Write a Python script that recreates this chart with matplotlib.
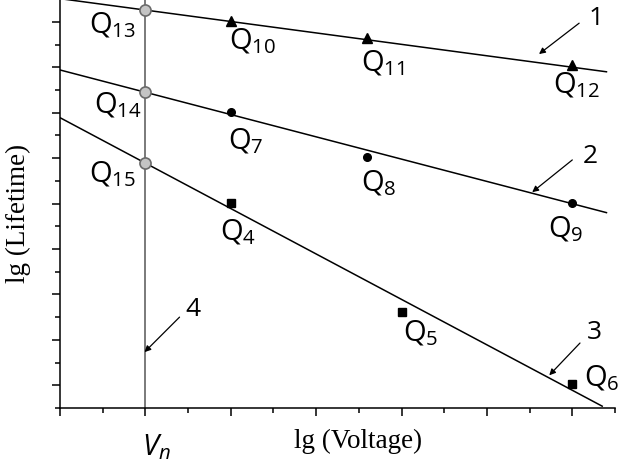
import matplotlib.pyplot as plt
import numpy as np

plt.rcParams["mathtext.fontset"] = "custom"
plt.rcParams["mathtext.rm"] = "Open Sans"
plt.rcParams["mathtext.it"] = "Open Sans:italic"
plt.rcParams["font.family"] = "Open Sans"

# fitted lines (end points) for the three series
line1_x = [0.0, 6.4]
line1_y = [8.51, 6.90]
line2_x = [0.0, 6.4]
line2_y = [6.94, 3.80]
line3_x = [0.0, 6.35]
line3_y = [5.89, -0.46]

# measured points
tri_x = [2.0, 3.6, 6.0]
tri_y = [8.02, 7.64, 7.05]
dot_x = [2.0, 3.6, 6.0]
dot_y = [6.01, 5.02, 4.01]
sq_x = [2.0, 4.0, 6.0]
sq_y = [4.01, 1.61, 0.02]

# intersections with V = Vn
vn = 1.0
cross_y = [8.26, 6.45, 4.89]

point_labels = ["10", "11", "12", "7", "8", "9", "4", "5", "6", "13", "14", "15"]
label_x = [2.26, 3.78, 6.05, 2.18, 3.73, 5.92, 2.08, 4.23, 6.35, 0.62, 0.68, 0.61]
label_y = [7.56, 7.09, 6.61, 5.37, 4.45, 3.44, 3.37, 1.15, 0.15, 7.93, 6.17, 4.65]

curve_names = ["1", "2", "3", "4"]
name_x = [6.28, 6.21, 6.26, 1.56]
name_y = [8.08, 5.04, 1.17, 1.67]
arrow_from = [(6.08, 7.97), (6.00, 4.96), (6.09, 0.93), (1.40, 1.50)]
arrow_to = [(5.61, 7.29), (5.53, 4.25), (5.73, 0.22), (0.99, 0.73)]

fig = plt.figure(figsize=(6.25, 4.71), dpi=100)
ax = fig.add_axes([60 / 625, 63 / 471, 555 / 625, 408 / 471])

ax.axvline(vn, color="#7a7a7a", linewidth=1.4, zorder=1)
for xs, ys in [(line1_x, line1_y), (line2_x, line2_y), (line3_x, line3_y)]:
    ax.plot(xs, ys, color="black", linewidth=1.1, zorder=2)

ax.plot(tri_x, tri_y, "^", color="black", markersize=6.5, linestyle="none", zorder=3)
ax.plot(dot_x, dot_y, "o", color="black", markersize=5.5, linestyle="none", zorder=3)
ax.plot(sq_x, sq_y, "s", color="black", markersize=5.5, linestyle="none", zorder=3)
ax.plot(np.full(len(cross_y), vn), cross_y, "o", markerfacecolor="#c4c4c4",
        markeredgecolor="#6a6a6a", markeredgewidth=1.2, markersize=8, linestyle="none", zorder=4)

for sub, x, y in zip(point_labels, label_x, label_y):
    ax.text(x, y, r"$\mathrm{Q}_{%s}$" % sub, fontsize=21, ha="center", va="center")

for text, x, y in zip(curve_names, name_x, name_y):
    ax.text(x, y, text, fontsize=19, ha="center", va="center")

for start, end in zip(arrow_from, arrow_to):
    ax.annotate("", xy=end, xytext=start,
                arrowprops=dict(arrowstyle="-|>", color="black", linewidth=0.9,
                                mutation_scale=9, shrinkA=0, shrinkB=0))

ax.set_xlim(0, 6.49)
ax.set_ylim(-0.5, 8.48)
ax.set_xticks(np.arange(0, 7, 1))
ax.set_xticks(np.arange(0.5, 6.6, 1), minor=True)
ax.set_yticks(np.arange(0, 9, 1))
ax.set_yticks(np.arange(-0.5, 8.5, 1), minor=True)
ax.set_xticklabels([])
ax.set_yticklabels([])
ax.tick_params(which="major", direction="out", length=6, width=1.1)
ax.tick_params(which="minor", direction="out", length=3.5, width=1.1)
ax.spines["top"].set_visible(False)
ax.spines["right"].set_visible(False)
ax.spines["left"].set_linewidth(1.1)
ax.spines["bottom"].set_linewidth(1.1)

fig.text(358 / 625, 1 - 441 / 471, "lg (Voltage)", fontsize=19.5,
         family="Liberation Serif", ha="center", va="center")
fig.text(18 / 625, 1 - 213 / 471, "lg (Lifetime)", fontsize=19.5,
         family="Liberation Serif", ha="center", va="center", rotation=90)
fig.text(156 / 625, 1 - 447 / 471, r"$V_n$", fontsize=21, ha="center", va="center")

fig.savefig("out.png", dpi=100)
plt.close(fig)
